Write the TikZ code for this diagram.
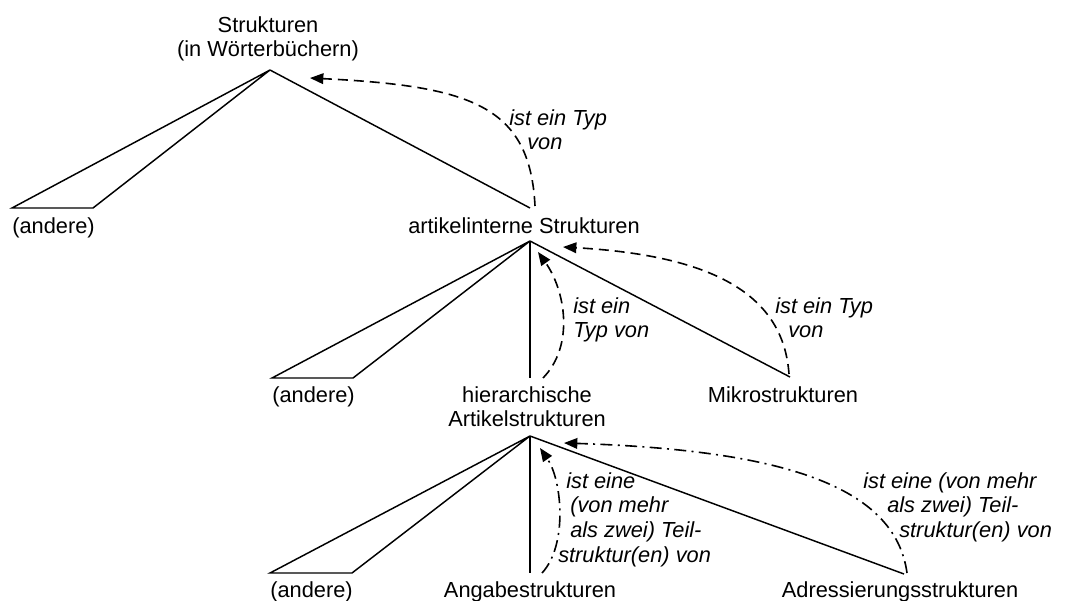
\documentclass[tikz,border=0pt]{standalone}
\usepackage{fontspec}
\setmainfont{Liberation Sans}
\usetikzlibrary{arrows.meta}
\newcommand\mylines[2][c]{\begin{tabular}[t]{@{}#1@{}}#2\end{tabular}}
\begin{document}
\begin{tikzpicture}[x=0.75pt,y=-0.75pt,
  every node/.style={inner sep=0pt, font=\fontsize{16.35}{18.6}\selectfont},
  txt/.style={anchor=base},
  txtw/.style={anchor=base west},
  lbl/.style={anchor=base west, font=\fontsize{16.35}{18.6}\selectfont\itshape},
  tree/.style={line width=1.1pt, line join=miter},
  isa/.style={line width=1.2pt, dash pattern=on 7.5pt off 4.5pt, -{Triangle[length=10pt,width=8pt]}},
  part/.style={line width=1.2pt, dash pattern=on 9pt off 4pt on 1.5pt off 4pt, -{Triangle[length=10pt,width=8pt]}}]
\useasboundingbox (0,0) rectangle (1066,600);

% texts
\node[txt] (struk) at (268,32) {\mylines{Strukturen\\(in Wörterbüchern)}};
\node[txtw] (and1) at (12,233) {(andere)};
\node[txt] (art) at (524,233) {artikelinterne Strukturen};
\node[txtw] (and2) at (272,402) {(andere)};
\node[txt] (hier) at (527,402) {\mylines{hierarchische\\Artikelstrukturen}};
\node[txt] (mikro) at (783,402) {Mikrostrukturen};
\node[txtw] (and3) at (270,597) {(andere)};
\node[txt] (angabe) at (530,597) {Angabestrukturen};
\node[txt] (adr) at (900,597) {Adressierungsstrukturen};

% tree points
\coordinate (a1) at (270,70);
\coordinate (t1l) at (12,208);
\coordinate (t1r) at (93,208);
\coordinate (e1) at (530,208);
\coordinate (a2) at (530,241);
\coordinate (t2l) at (272,378);
\coordinate (t2r) at (353,378);
\coordinate (e2h) at (530,378);
\coordinate (e2m) at (790,377);
\coordinate (a3) at (530,436);
\coordinate (t3l) at (270,573);
\coordinate (t3r) at (352,573);
\coordinate (e3a) at (530,573);
\coordinate (e3d) at (904,574);

\draw[tree] (a1) -- (t1l) -- (t1r) -- cycle;
\draw[tree] (a1) -- (e1);
\draw[tree] (a2) -- (t2l) -- (t2r) -- cycle;
\draw[tree] (a2) -- (e2h);
\draw[tree] (a2) -- (e2m);
\draw[tree] (a3) -- (t3l) -- (t3r) -- cycle;
\draw[tree] (a3) -- (e3a);
\draw[tree] (a3) -- (e3d);

% relation arrows
\coordinate (s1) at (535,206);
\coordinate (p1) at (310,78);
\coordinate (s2) at (543,378);
\coordinate (p2) at (538,252);
\coordinate (s3) at (789,374);
\coordinate (p3) at (563,247);
\coordinate (s4) at (542,573);
\coordinate (p4) at (540,448);
\coordinate (s5) at (907,573);
\coordinate (p5) at (564,443);

\draw[isa] (s1) .. controls (530,105) and (470,86) .. (p1);
\draw[isa] (s2) .. controls (575,345) and (565,290) .. (p2);
\draw[isa] (s3) .. controls (783,290) and (705,255) .. (p3);
\draw[part] (s4) .. controls (568,545) and (562,480) .. (p4);
\draw[part] (s5) .. controls (895,485) and (780,450) .. (p5);

% labels
\node[lbl] (l1) at (509,125) {\mylines[l]{ist ein Typ\\\hspace*{13.5pt}von}};
\node[lbl] (l2) at (573,313) {\mylines[l]{ist ein\\Typ von}};
\node[lbl] (l3) at (775,313) {\mylines[l]{ist ein Typ\\\hspace*{9.75pt}von}};
\node[lbl] (l4) at (566,488) {\mylines[l]{ist eine\\\hspace*{3pt}(von mehr\\\hspace*{3pt}als zwei) Teil-\\\hspace*{-6pt}struktur(en) von}};
\node[lbl] (l5) at (863,488) {\mylines[l]{ist eine (von mehr\\\hspace*{18pt}als zwei) Teil-\\\hspace*{27pt}struktur(en) von}};
\end{tikzpicture}
\end{document}
